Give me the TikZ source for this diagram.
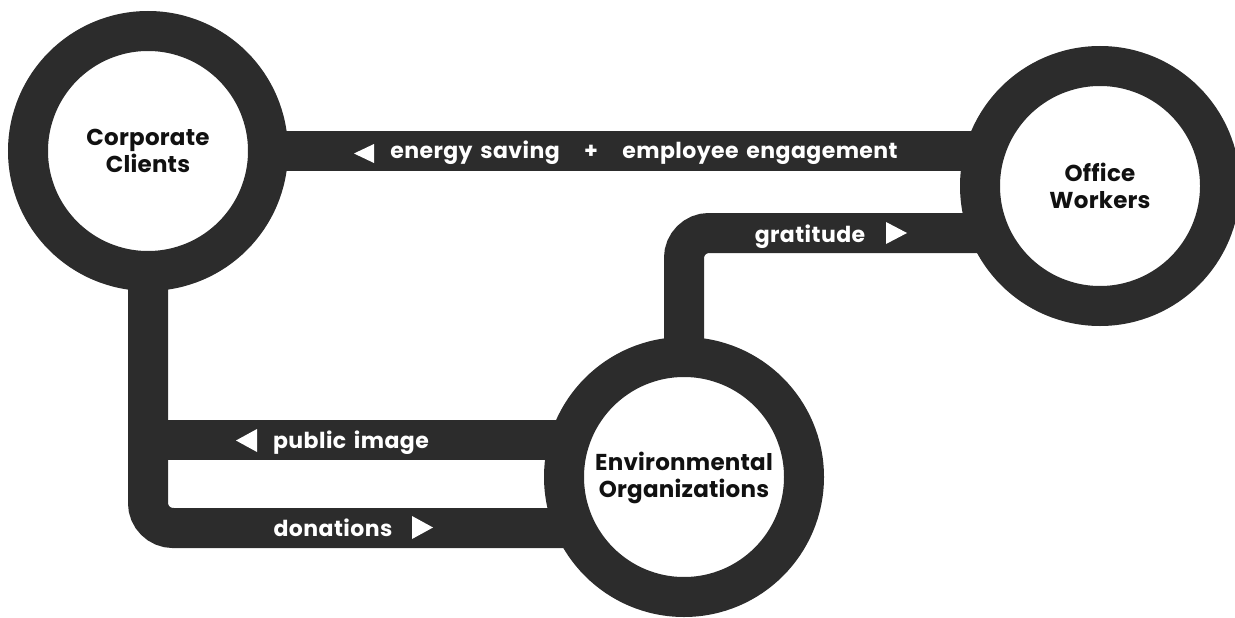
\documentclass[tikz,border=0pt]{standalone}
\usepackage{fontspec}
\setmainfont{Poppins}
\newfontfamily\lblfont{Poppins}[LetterSpace=2,WordSpace=1.5]
\usetikzlibrary{backgrounds}
\definecolor{bar}{HTML}{2C2C2C}
\definecolor{ink}{HTML}{111111}
\begin{document}
\begin{tikzpicture}[x=1pt,y=-1pt,
  hub/.style={circle, draw=bar, line width=40pt, fill=white, minimum size=240pt, inner sep=0pt},
  hubtext/.style={font=\bfseries\fontsize{23}{27}\selectfont\addfontfeatures{LetterSpace=1}, text=ink, align=center, anchor=base, inner sep=0pt},
  flow/.style={draw=bar, line width=40pt, rounded corners=25pt},
  lbl/.style={font=\lblfont\bfseries\fontsize{22}{25}\selectfont, text=white, anchor=base, inner sep=0pt},
  tri/.style={fill=white}]
\useasboundingbox (0,0) rectangle (1235,618);
\node[hub] (cc) at (148,151) {};
\node[hub] (ow) at (1100,186) {};
\node[hub] (env) at (684,477) {};
\coordinate (topR) at (cc.center -| ow.center);
\coordinate (gR) at ([yshift=-47pt]ow.center);
\coordinate (gC) at (env.center |- gR);
\coordinate (pubY) at ([yshift=37pt]env.center);
\coordinate (donY) at ([yshift=-51pt]env.center);
\begin{scope}[on background layer]
  \draw[flow] (cc.center) -- (topR);
  \draw[flow] (gR) -- (gC) -- (env.center);
  \draw[flow] (cc.center) -- (cc.center |- donY) -- (donY);
  \draw[flow] (cc.center |- pubY) -- (pubY);
\end{scope}
\node[hubtext] (cct) at ([yshift=-21pt]cc.center) {Corporate\\Clients};
\node[hubtext] (owt) at ([yshift=-22pt]ow.center) {Office\\Workers};
\node[hubtext] (envt) at ([yshift=-20pt]env.center) {Environmental\\Organizations};
\node[lbl] (l1) at (475,158) {energy saving};
\node[lbl] (plus) at (591,158) {+};
\node[lbl] (l2) at (760,158) {employee engagement};
\node[lbl] (l3) at (810,242) {gratitude};
\node[lbl] (l4) at (351,448) {public image};
\node[lbl] (l5) at (333,536) {donations};
\fill[tri] (354,153.5) -- (374,144) -- (374,163) -- cycle;
\fill[tri] (886,222) -- (886,244) -- (907,233) -- cycle;
\fill[tri] (236,440.5) -- (257,429) -- (257,452) -- cycle;
\fill[tri] (412,516) -- (412,539) -- (433,527.5) -- cycle;
\end{tikzpicture}
\end{document}
